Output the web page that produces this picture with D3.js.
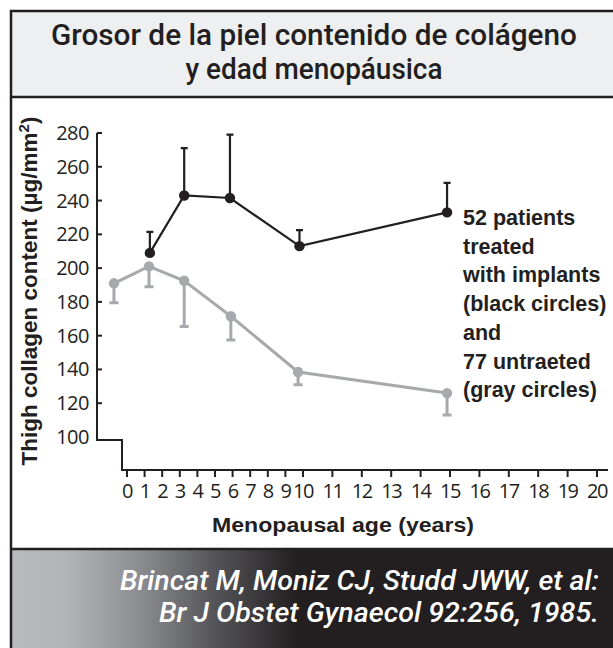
<!DOCTYPE html>
<html>
<head>
<meta charset="utf-8">
<script src="https://cdn.jsdelivr.net/npm/d3@7"></script>
<style>
  html, body { margin: 0; padding: 0; background: #fff; }
  svg { display: block; }
</style>
</head>
<body>
<script>
// values
const treatedYears = [1.3, 3.25, 5.85, 9.8, 14.9];
const treatedMean = [209, 243, 241.5, 213, 233];
const treatedUpper = [221.5, 271, 279, 222.5, 250.5];

const untreatedYears = [-0.74, 1.25, 3.25, 5.9, 9.72, 14.9];
const untreatedMean = [191, 201, 192.5, 171.5, 138.5, 126];
const untreatedLower = [179.5, 189, 165.5, 157.5, 131, 113];

const yTicks = [100, 120, 140, 160, 180, 200, 220, 240, 260, 280];
const xTicks = d3.range(0, 21);

const titleLines = ["Grosor de la piel contenido de colágeno", "y edad menopáusica"];
const noteLines = ["52 patients", "treated", "with implants", "(black circles)", "and", "77 untraeted", "(gray circles)"];
const sourceLines = ["Brincat M, Moniz CJ, Studd JWW, et al:", "Br J Obstet Gynaecol 92:256, 1985."];

const W = 613, H = 648;
const dark = "#231f20", grey = "#a7a9ac";

const svg = d3.select("body").append("svg")
  .attr("width", W)
  .attr("height", H);

// x axis is stretched after 10 years
const x = d3.scaleLinear().domain([0, 10, 20]).range([127, 303, 597]);
const y = d3.scaleLinear().domain([100, 280]).range([437, 133]);

// frame + title panel
svg.append("rect").attr("x", 11).attr("y", 11).attr("width", 620).attr("height", 86)
  .attr("fill", "#eeeff1");

const grad = svg.append("defs").append("linearGradient")
  .attr("id", "foot").attr("x1", 0).attr("x2", 1).attr("y1", 0).attr("y2", 0);
grad.selectAll("stop")
  .data([[0, "#b9babe"], [0.09, "#b3b4b8"], [0.2, "#8f9094"], [0.33, "#545458"], [0.46, "#231f20"], [1, "#231f20"]])
  .join("stop")
  .attr("offset", d => d[0])
  .attr("stop-color", d => d[1]);

svg.append("rect").attr("x", 11).attr("y", 549).attr("width", 620).attr("height", 110)
  .attr("fill", "url(#foot)");

svg.append("path")
  .attr("d", "M11,660V11H640 M11,97H640 M11,549H640")
  .attr("fill", "none").attr("stroke", dark).attr("stroke-width", 2.5);

const titleW = [526, 257];
svg.append("text")
  .attr("text-anchor", "middle")
  .style("font-family", "Roboto, sans-serif")
  .style("font-size", "29px")
  .style("font-weight", "500")
  .attr("fill", dark)
  .selectAll("tspan").data(titleLines).join("tspan")
  .attr("x", 314).attr("y", (d, i) => i ? 79 : 45)
  .attr("textLength", (d, i) => titleW[i])
  .attr("lengthAdjust", "spacingAndGlyphs")
  .text(d => d);

// axes
const g = svg.append("g");
g.append("path")
  .attr("d", `M97,${y(280)}V${y(100) + 3}H122V470H608`)
  .attr("fill", "none").attr("stroke", dark).attr("stroke-width", 2);

g.selectAll(".yt").data(yTicks.filter(d => d > 100)).join("line")
  .attr("x1", 97).attr("x2", 102)
  .attr("y1", d => y(d)).attr("y2", d => y(d))
  .attr("stroke", dark).attr("stroke-width", 2);

g.selectAll(".yl").data(yTicks).join("text")
  .attr("x", 89).attr("y", d => y(d) + 7)
  .attr("text-anchor", "end")
  .style("font-family", "'Open Sans', sans-serif")
  .style("font-size", "20px")
  .style("letter-spacing", "-0.5px")
  .attr("fill", dark)
  .text(d => d);

g.selectAll(".xt").data(xTicks).join("line")
  .attr("x1", d => x(d)).attr("x2", d => x(d))
  .attr("y1", 470).attr("y2", 477)
  .attr("stroke", dark).attr("stroke-width", 2);

g.selectAll(".xl").data(xTicks).join("text")
  .attr("x", d => x(d)).attr("y", 498)
  .attr("text-anchor", "middle")
  .style("font-family", "'Open Sans', sans-serif")
  .style("font-size", "20px")
  .style("letter-spacing", "-1.5px")
  .attr("fill", dark)
  .text(d => d);

svg.append("text")
  .attr("x", 343).attr("y", 532)
  .attr("text-anchor", "middle")
  .style("font-family", "'Liberation Sans', Arial, sans-serif")
  .style("font-size", "21px")
  .style("font-weight", "bold")
  .attr("fill", dark)
  .attr("textLength", 262)
  .attr("lengthAdjust", "spacingAndGlyphs")
  .text("Menopausal age (years)");

const ylab = svg.append("text")
  .attr("transform", "translate(37,291) rotate(-90)")
  .attr("text-anchor", "middle")
  .style("font-family", "'Liberation Sans', Arial, sans-serif")
  .style("font-size", "22.5px")
  .style("font-weight", "bold")
  .attr("fill", dark);
ylab.append("tspan").text("Thigh collagen content (µg/mm");
ylab.append("tspan").attr("dy", -8).style("font-size", "15px").text("2");
ylab.append("tspan").attr("dy", 8).text(")");

// series
const treated = treatedYears.map((t, i) => ({t, v: treatedMean[i], e: treatedUpper[i]}));
const untreated = untreatedYears.map((t, i) => ({t, v: untreatedMean[i], e: untreatedLower[i]}));

const line = d3.line().x(d => x(d.t)).y(d => y(d.v));

function drawSeries(data, color, lw, cap) {
  const s = svg.append("g");
  s.selectAll(".err").data(data).join("path")
    .attr("d", d => `M${x(d.t)},${y(d.v)}V${y(d.e)}M${x(d.t) - cap},${y(d.e)}H${x(d.t) + cap}`)
    .attr("fill", "none").attr("stroke", color).attr("stroke-width", lw);
  s.append("path").datum(data)
    .attr("d", line)
    .attr("fill", "none").attr("stroke", color).attr("stroke-width", lw);
  s.selectAll("circle").data(data).join("circle")
    .attr("cx", d => x(d.t)).attr("cy", d => y(d.v)).attr("r", 5.2)
    .attr("fill", color);
}
drawSeries(untreated, grey, 3, 4.5);
drawSeries(treated, dark, 2.2, 3.5);

svg.append("text")
  .style("font-family", "'Liberation Sans', Arial, sans-serif")
  .style("font-size", "21.5px")
  .style("font-weight", "bold")
  .attr("fill", dark)
  .selectAll("tspan").data(noteLines).join("tspan")
  .attr("x", 463).attr("y", (d, i) => 225 + i * 28.7)
  .text(d => d);

const srcW = [479, 440];
svg.append("text")
  .attr("text-anchor", "end")
  .style("font-family", "Roboto, sans-serif")
  .style("font-size", "27px")
  .style("font-style", "italic")
  .style("font-weight", "500")
  .attr("fill", "#fff")
  .selectAll("tspan").data(sourceLines).join("tspan")
  .attr("x", 599).attr("y", (d, i) => i ? 622 : 590)
  .attr("textLength", (d, i) => srcW[i])
  .attr("lengthAdjust", "spacingAndGlyphs")
  .text(d => d);
</script>
</body>
</html>
